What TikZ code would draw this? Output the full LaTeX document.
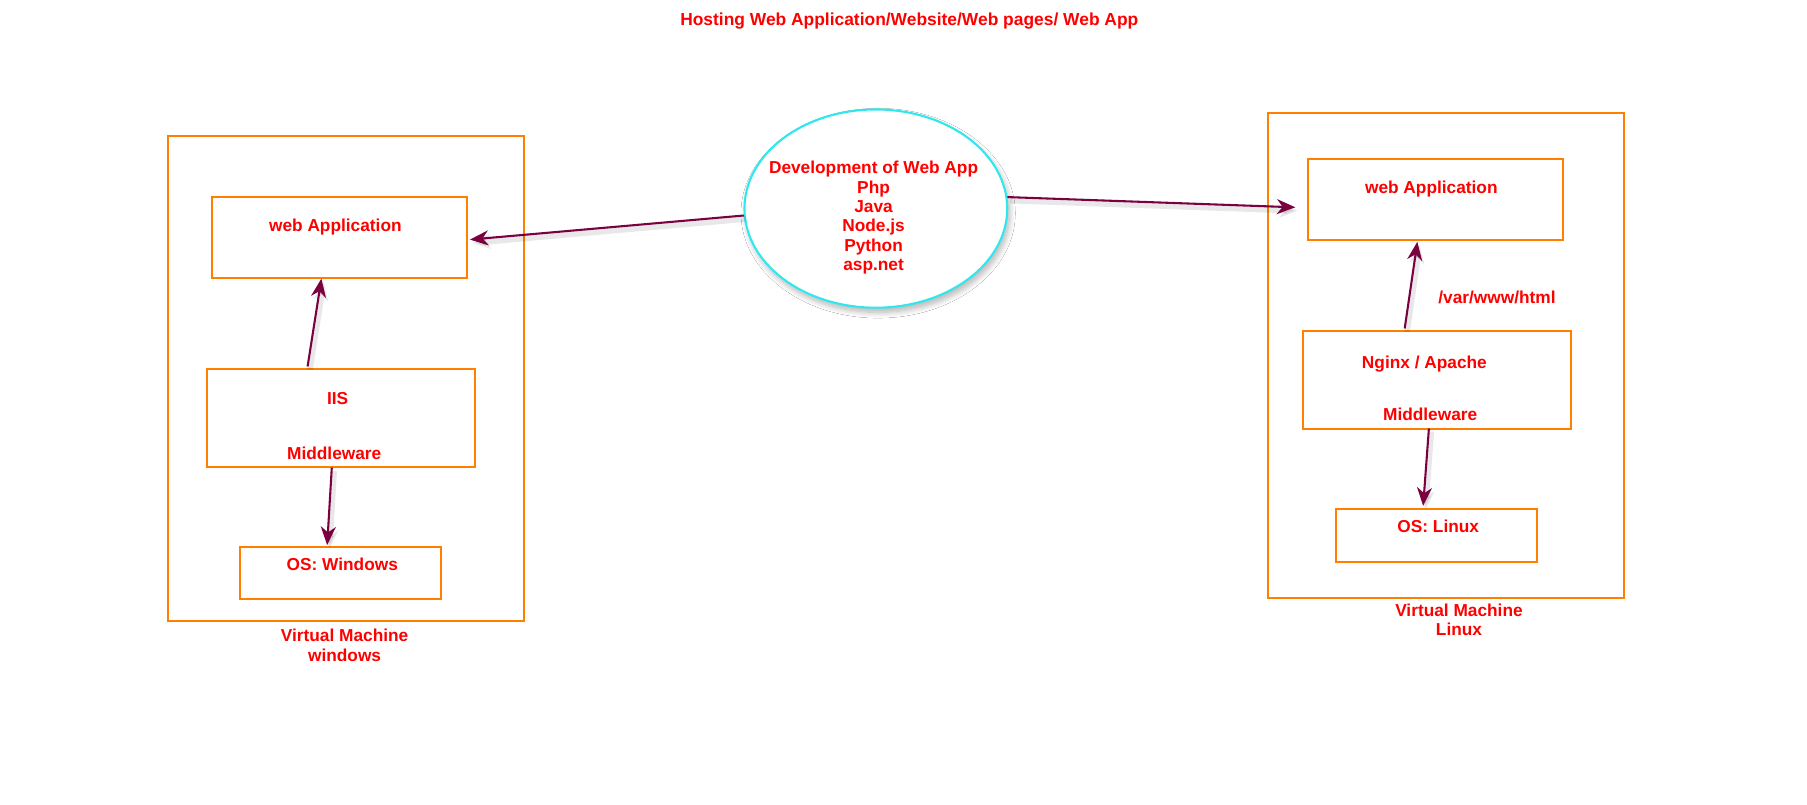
\documentclass[tikz,border=0pt]{standalone}
\usepackage{fontspec}
\setmainfont{Liberation Sans}
\usetikzlibrary{arrows.meta,shapes.geometric,shadows.blur,calc}
\definecolor{boxorange}{HTML}{FF8000}
\definecolor{txtred}{HTML}{FF0000}
\definecolor{arrmaroon}{HTML}{7A0040}
\definecolor{ellcyan}{HTML}{2EE8EE}
\tikzset{
  box/.style={draw=boxorange, line width=1.8pt, rectangle, inner sep=0pt, anchor=north west},
  txt/.style={text=txtred, font=\fontsize{15}{16.8}\selectfont\bfseries, inner sep=0pt, anchor=base},
  ell/.style={draw=ellcyan, line width=1.8pt, ellipse, fill=white, inner sep=0pt,
    minimum width=228pt, minimum height=172pt,
    blur shadow={shadow xshift=2pt, shadow yshift=-4pt, shadow blur steps=10, shadow blur radius=5pt, shadow opacity=30}},
  conn/.style={draw=arrmaroon, line width=1.8pt, -{Stealth[length=16pt,width=13pt,inset=5pt]},
    preaction={draw=black, opacity=0.09, line width=5pt, transform canvas={shift={(2pt,-3pt)}}}}
}
\begin{document}
\begin{tikzpicture}[x=1pt,y=-1pt]
\useasboundingbox (0,0) rectangle (1568,697.7);
\fill[white] (0,0) rectangle (1568,697.7);

% title
\node[txt, font=\fontsize{15.1}{16}\selectfont\bfseries] (title) at (789,22) {Hosting Web Application/Website/Web pages/ Web App};

% left VM
\node[box, minimum width=309pt, minimum height=421pt] (lvm) at (145,117) {};
\node[box, minimum width=221pt, minimum height=70pt] (lwa) at (183,170) {};
\node[box, minimum width=232pt, minimum height=85pt] (iis) at (179,319) {};
\node[box, minimum width=175pt, minimum height=45pt] (wos) at (207,474) {};
\node[txt] (lwatxt) at (291,201) {web Application};
\node[txt] (iistxt) at (293,351) {IIS};
\node[txt] (lmidtxt) at (290,399) {Middleware};
\node[txt] (wostxt) at (297,495) {OS: Windows};
\node[txt, align=center, anchor=north] (lvmtxt) at (299,546) {Virtual Machine\\windows};

% right VM
\node[box, minimum width=309pt, minimum height=421pt] (rvm) at (1099,97) {};
\node[box, minimum width=221pt, minimum height=70pt] (rwa) at (1134,137) {};
\node[box, minimum width=232pt, minimum height=85pt] (ngx) at (1130,286) {};
\node[box, minimum width=175pt, minimum height=46pt] (los) at (1158,441) {};
\node[txt] (rwatxt) at (1242,168) {web Application};
\node[txt] (pathtxt) at (1299,263) {/var/www/html};
\node[txt] (ngxtxt) at (1236,320) {Nginx / Apache};
\node[txt] (rmidtxt) at (1241,365) {Middleware};
\node[txt] (lostxt) at (1248,462) {OS: Linux};
\node[txt, align=center, anchor=north] (rvmtxt) at (1266,524) {Virtual Machine\\Linux};

% ellipse
\node[ell] (dev) at (760,181) {};
\node[txt, align=center, anchor=center] (devtxt) at (758,189) {Development of Web App\\Php\\Java\\Node.js\\Python\\asp.net};

% connectors
\draw[conn] (dev.183.5) -- ($(lwa.east)+(2,2)$);
\draw[conn] (dev.5.5) -- ($(rwa.west)+(-10,7)$);
\draw[conn] ($(iis.north)+(-29,-1)$) -- ($(lwa.south)+(-15.5,0)$);
\draw[conn] ($(iis.south)+(-8,0)$) -- ($(wos.north)+(-11.5,-1)$);
\draw[conn] ($(ngx.north)+(-28,-1)$) -- ($(rwa.south)+(-15.5,1)$);
\draw[conn] ($(ngx.south)+(-7,-1)$) -- ($(los.north)+(-11.5,-2)$);
\end{tikzpicture}
\end{document}
